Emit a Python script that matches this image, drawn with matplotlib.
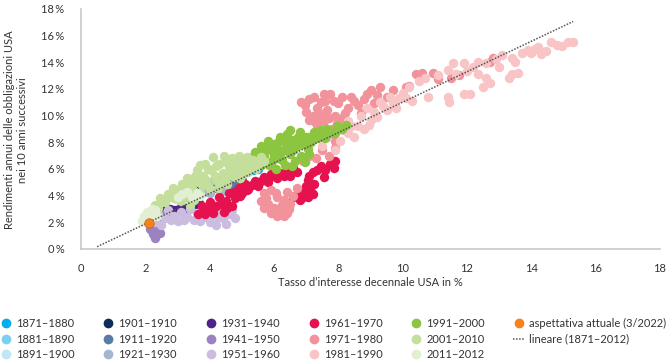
import numpy as np
import matplotlib.pyplot as plt
from matplotlib.lines import Line2D

plt.rcParams['font.family'] = ['Lato', 'DejaVu Sans']

# decenni (tasso decennale, rendimento annuo nei 10 anni successivi), in %
x_1871 = [5.3, 5.5, 5.4, 5.2, 5.0, 5.45, 5.35, 4.95, 5.1, 5.25]
y_1871 = [6.4, 6.0, 6.15, 6.0, 5.8, 6.3, 5.9, 5.9, 5.9, 6.25]
x_1881 = [3.8, 3.9, 4.0, 4.1, 4.2, 4.3, 4.4, 4.5, 4.6, 4.7]
y_1881 = [4.6, 4.9, 4.7, 5.1, 4.8, 5.2, 5.0, 5.3, 5.1, 5.4]
x_1891 = [3.0, 3.1, 3.2, 3.3, 3.4, 3.5, 3.6, 3.7, 3.8]
y_1891 = [3.7, 3.9, 4.0, 4.2, 3.9, 4.3, 4.1, 4.4, 4.2]
x_1901 = [3.4, 3.5, 3.6, 3.7, 3.8, 3.9]
y_1901 = [4.3, 4.5, 4.4, 4.7, 4.6, 4.8]
x_1911 = [4.0, 4.2, 4.4, 4.6, 4.8, 5.0, 4.3, 4.7]
y_1911 = [4.4, 4.6, 4.5, 4.8, 4.9, 5.2, 5.0, 5.5]
x_1921 = [3.2, 3.4, 3.6, 3.8, 4.0, 4.35, 4.5, 3.3]
y_1921 = [4.0, 4.1, 4.2, 4.3, 4.2, 4.3, 4.4, 3.9]
x_1931 = [2.5, 2.6, 2.75, 2.9, 3.05, 3.2, 3.4, 3.57, 3.66, 2.8, 3.3]
y_1931 = [2.8, 2.9, 3.0, 2.9, 3.0, 3.1, 3.2, 3.35, 3.45, 2.7, 3.0]
x_1941 = [2.15, 2.2, 2.25, 2.3, 2.35, 2.4, 2.45, 2.5, 2.3, 2.2, 2.6]
y_1941 = [1.5, 1.9, 1.1, 0.8, 1.4, 2.1, 1.2, 2.4, 2.2, 2.5, 2.6]
x_1951 = [2.3, 2.4, 2.6, 2.7, 2.9, 3.0, 3.1, 3.3, 3.4, 3.5, 3.6, 3.8,
          3.9, 4.0, 4.1, 4.2, 4.3, 4.4, 4.5, 4.6, 4.7, 4.8, 2.5, 3.2,
          3.7, 4.25, 2.8]
y_1951 = [2.0, 2.6, 2.3, 2.9, 2.5, 2.1, 2.8, 2.4, 3.0, 2.2, 2.7, 2.4,
          3.0, 2.0, 2.6, 1.8, 2.9, 2.3, 1.9, 2.6, 2.9, 2.3, 1.8, 2.2,
          2.1, 2.4, 2.2]
x_1961 = [3.65, 3.75, 3.9, 4.0, 4.2, 4.3, 4.5, 4.6, 4.8, 4.9, 5.0, 5.1,
          5.2, 5.4, 5.5, 5.7, 5.8, 5.9, 6.1, 6.2, 6.4, 6.5, 6.6, 6.7,
          7.05, 7.1, 7.25, 7.35, 7.55, 7.75, 7.85, 7.9, 6.75, 6.8, 7.05,
          6.95, 7.15, 6.6, 4.45, 4.1, 4.7,
          3.85, 4.05, 4.35, 4.55, 4.75, 4.95, 5.15, 5.3, 5.6, 5.85, 6.0,
          6.3, 7.2, 7.45, 7.6, 7.0, 6.9, 7.2]
y_1961 = [2.6, 3.2, 2.9, 3.5, 3.2, 3.9, 3.6, 4.2, 3.8, 4.6, 4.2, 4.9,
          4.5, 5.1, 4.7, 5.4, 5.0, 5.6, 5.3, 5.7, 5.9, 5.5, 6.1, 5.8,
          5.15, 5.5, 4.9, 5.9, 5.4, 6.4, 6.1, 6.6, 4.2, 3.7, 3.9,
          4.4, 4.3, 3.9, 2.8, 2.7, 3.2,
          2.6, 3.1, 3.4, 3.1, 4.3, 4.0, 4.4, 4.8, 5.1, 5.3, 5.6,
          5.5, 5.8, 6.2, 5.9, 4.7, 3.9, 4.1]
x_1971 = [5.6, 5.7, 5.7, 5.8, 5.9, 5.9, 6.0, 6.1, 6.1, 6.2, 6.3, 6.4,
          6.5, 6.6, 6.7, 6.4, 5.75, 6.05, 6.25, 6.45, 6.0, 6.3,
          6.9, 7.1, 7.3, 7.5, 7.7, 7.9, 7.9, 7.05, 7.25, 7.35, 7.55, 7.8, 8.1,
          6.85, 7.0, 7.25, 7.35, 7.55, 7.65, 7.75, 7.9, 8.0, 8.1, 8.3, 8.5,
          8.7, 8.9, 9.1, 9.3, 9.5, 9.7, 10.1, 10.2, 10.4, 10.6, 10.95, 11.1,
          11.5, 11.75, 12.8, 12.7,
          6.95, 7.1, 7.2, 7.45, 7.45, 7.6, 7.85, 7.7, 8.2, 8.4, 8.6, 8.8,
          9.0, 9.2, 7.4, 7.1, 7.95]
y_1971 = [3.6, 4.2, 3.1, 3.4, 4.4, 2.7, 3.1, 3.9, 2.5, 2.9, 3.7, 4.3,
          3.4, 4.0, 4.6, 2.7, 3.8, 4.2, 3.3, 3.0, 2.8, 2.5,
          6.6, 7.0, 6.8, 7.4, 7.0, 7.6, 8.1, 8.4, 9.6, 9.3, 9.6, 9.0, 9.8,
          11.0, 10.3, 11.4, 10.6, 11.6, 10.4, 11.6, 10.0, 10.9, 11.4, 10.6, 11.1,
          10.2, 11.6, 10.9, 12.1, 11.4, 11.9, 12.1, 12.2, 13.1, 13.2, 13.2, 12.7,
          12.8, 13.0, 14.3, 14.0,
          10.8, 11.2, 10.0, 11.0, 10.1, 11.1, 11.1, 9.8, 10.2, 11.4, 10.8, 11.2,
          11.9, 11.5, 9.9, 9.7, 9.4]
x_1981 = [7.05, 7.3, 7.5, 7.65, 7.9, 8.05, 8.3, 8.5, 8.3, 8.6, 8.7, 8.8,
          8.9, 9.0, 9.1, 9.3, 9.5, 9.7, 9.9, 10.2, 10.3, 10.5, 10.7, 10.8,
          11.1, 11.4, 11.4, 11.45, 11.55, 11.65, 11.9, 11.9, 12.1, 12.35,
          12.35, 12.5, 12.6, 12.6, 12.7, 13.1, 13.3, 13.4, 13.4, 13.6, 13.7,
          14.0, 14.3, 14.1, 14.6, 14.95, 15.15, 15.3,
          8.15, 8.4, 8.95, 9.2, 9.4, 9.6, 9.8, 10.0, 10.1, 12.0, 12.2, 12.9,
          13.0, 13.5, 13.9, 14.2, 14.45, 14.8]
y_1981 = [8.0, 8.6, 7.7, 8.4, 7.4, 8.1, 8.7, 8.4, 9.6, 9.2, 10.0, 9.0,
          10.6, 9.7, 10.3, 11.0, 10.4, 10.9, 11.3, 12.1, 11.1, 12.6, 12.8, 11.4,
          13.0, 13.4, 11.4, 11.0, 13.9, 13.1, 13.9, 11.6, 11.6, 14.0,
          13.1, 12.1, 13.9, 12.8, 12.4, 14.5, 12.8, 14.3, 13.1, 13.2, 14.7,
          14.7, 14.6, 15.0, 15.5, 15.2, 15.5, 15.5,
          8.9, 9.2, 9.3, 9.9, 10.7, 11.4, 10.6, 11.7, 11.3, 13.3, 13.6, 14.2,
          13.6, 14.0, 14.9, 15.1, 14.8, 15.3]
x_1991 = [5.2, 5.3, 5.4, 5.5, 5.6, 5.7, 5.8, 5.85, 5.9, 6.0, 6.05, 6.1,
          6.2, 6.3, 6.35, 6.4, 6.5, 6.6, 6.65, 6.7, 6.8, 6.85, 6.95, 7.0,
          7.05, 7.15, 7.25, 7.35, 7.45, 7.55, 7.65, 7.8, 7.95, 8.1, 8.25,
          6.9, 6.5,
          5.35, 5.6, 5.65, 5.95, 6.1, 6.25, 6.45, 6.55, 6.6, 6.75, 7.1,
          7.2, 7.4, 7.6, 7.9, 6.2, 5.75, 6.0, 6.15, 6.35]
y_1991 = [6.3, 6.9, 7.3, 6.6, 7.7, 7.0, 8.1, 6.3, 7.4, 7.9, 6.0, 6.8,
          8.4, 7.4, 6.3, 8.6, 7.1, 8.2, 6.6, 7.7, 8.8, 7.0, 6.5, 8.4,
          7.5, 8.0, 8.8, 8.3, 8.9, 8.6, 9.0, 8.7, 9.2, 9.0, 9.3,
          7.9, 8.9,
          6.1, 6.3, 7.3, 6.6, 7.6, 6.7, 7.6, 6.2, 7.4, 8.4, 7.1,
          8.4, 8.4, 8.3, 8.7, 7.1, 7.5, 7.0, 8.1, 8.0]
x_2001 = [2.15, 2.2, 2.3, 2.45, 2.6, 2.7, 2.85, 2.9, 3.05, 3.15, 3.3, 3.3,
          3.45, 3.5, 3.6, 3.65, 3.7, 3.8, 3.85, 3.95, 4.05, 4.1, 4.2, 4.25,
          4.3, 4.4, 4.45, 4.55, 4.6, 4.7, 4.75, 4.85, 4.9, 5.0, 5.05, 5.15,
          5.25, 5.35, 5.5, 5.6, 3.4,
          2.4, 2.55, 2.8, 2.95, 3.1, 3.25, 3.4, 3.55, 3.55, 3.75, 3.9, 3.95,
          4.0, 4.15, 4.2, 4.35, 4.5, 4.5, 4.65, 4.8, 4.95, 5.1, 5.2, 5.45,
          5.7, 3.7]
y_2001 = [2.4, 2.9, 3.3, 3.8, 3.5, 4.1, 4.6, 3.8, 4.3, 4.9, 4.0, 5.3,
          4.6, 3.7, 5.9, 5.0, 4.2, 5.5, 6.4, 4.7, 5.9, 6.9, 5.2, 4.6,
          6.4, 5.7, 7.0, 4.9, 6.2, 6.8, 5.4, 6.0, 7.0, 6.5, 5.6, 6.9,
          6.2, 6.7, 6.4, 6.9, 3.3,
          3.1, 3.6, 3.9, 4.4, 3.6, 4.6, 5.0, 4.3, 5.5, 4.8, 5.2, 6.0,
          4.5, 5.5, 6.2, 5.0, 6.5, 5.4, 5.8, 6.4, 5.3, 6.2, 5.8, 6.0,
          6.6, 6.3]
x_2011 = [1.9, 1.95, 2.0, 2.05, 2.1, 2.2, 2.3, 2.35, 2.0, 2.15,
          3.0, 3.15, 3.3, 3.45, 3.6, 3.7]
y_2011 = [2.1, 2.5, 2.3, 2.8, 2.6, 3.0, 2.9, 2.5, 2.0, 2.2,
          3.9, 4.1, 4.25, 3.9, 4.2, 4.0]

decenni = ['1871–1880', '1881–1890', '1891–1900', '1901–1910', '1911–1920',
           '1921–1930', '1931–1940', '1941–1950', '1951–1960', '1961–1970',
           '1971–1980', '1981–1990', '1991–2000', '2001–2010', '2011–2012']
xs = [x_1871, x_1881, x_1891, x_1901, x_1911, x_1921, x_1931, x_1941,
      x_1951, x_1961, x_1971, x_1981, x_1991, x_2001, x_2011]
ys = [y_1871, y_1881, y_1891, y_1901, y_1911, y_1921, y_1931, y_1941,
      y_1951, y_1961, y_1971, y_1981, y_1991, y_2001, y_2011]
colori = ['#00aeef', '#7dcff2', '#c3e6f7', '#0b2d5b', '#587ba8',
          '#a4b6d2', '#4e2388', '#9b82c1', '#cabde0', '#e5124f',
          '#f2929a', '#f9c4c6', '#8cc540', '#c4de9c', '#e2efd2']

# aspettativa attuale (3/2022)
x_attuale = [2.1]
y_attuale = [1.95]

# retta di regressione (1871-2012)
pendenza = 1.14
intercetta = -0.4
x_retta = np.array([0.5, 15.3])

fig = plt.figure(figsize=(6.7, 3.64), dpi=100)
ax = fig.add_axes([0.121, 0.316, 0.864, 0.66])

for xv, yv, c in zip(xs, ys, colori):
    ax.scatter(xv, yv, s=46, color=c, linewidths=0)

ax.plot(x_retta, intercetta + pendenza * x_retta, color='#555555',
        lw=1.1, ls=(0, (1, 1)), zorder=5)
ax.scatter(x_attuale, y_attuale, s=46, color='#f5821f',
           edgecolors='#d2650c', linewidths=0.6, zorder=6)

ax.set_xlim(0, 18)
ax.set_ylim(0, 18)
ax.set_xticks(range(0, 19, 2))
ax.set_yticks(range(0, 19, 2))
ax.set_yticklabels([f'{v}\u2009%' for v in range(0, 19, 2)])
ax.tick_params(length=0, labelsize=8, colors='#333333')
ax.tick_params(axis='x', pad=10)
ax.tick_params(axis='y', pad=12)
for s in ['top', 'right']:
    ax.spines[s].set_visible(False)
for s in ['left', 'bottom']:
    ax.spines[s].set_color('#c8c8c8')
    ax.spines[s].set_linewidth(1.2)

fig.text(0.553, 1 - 282 / 364, 'Tasso d\u2019interesse decennale USA in %',
         ha='center', va='center', fontsize=8, color='#333333')
fig.text(0.024, 1 - 130 / 364,
         'Rendimenti annui delle obbligazioni USA\nnei 10 anni successivi',
         rotation=90, ha='center', va='center', fontsize=8,
         color='#333333', linespacing=1.2)

# legenda
handles = [Line2D([], [], ls='none', marker='o', ms=6, color=c) for c in colori]
handles.append(Line2D([], [], ls='none', marker='o', ms=6, color='#f5821f'))
handles.append(Line2D([], [], color='#555555', lw=1.1, ls=(0, (1, 1))))
labels = decenni + ['aspettativa attuale (3/2022)', 'lineare (1871–2012)']
fig.legend(handles, labels, ncol=6, loc='lower left',
           bbox_to_anchor=(-0.006, -0.002), frameon=False, fontsize=8,
           handlelength=1.0, handletextpad=0.4, columnspacing=2.55,
           labelspacing=0.42, borderaxespad=0.0, labelcolor='#333333')

fig.savefig('out.png', dpi=100)
